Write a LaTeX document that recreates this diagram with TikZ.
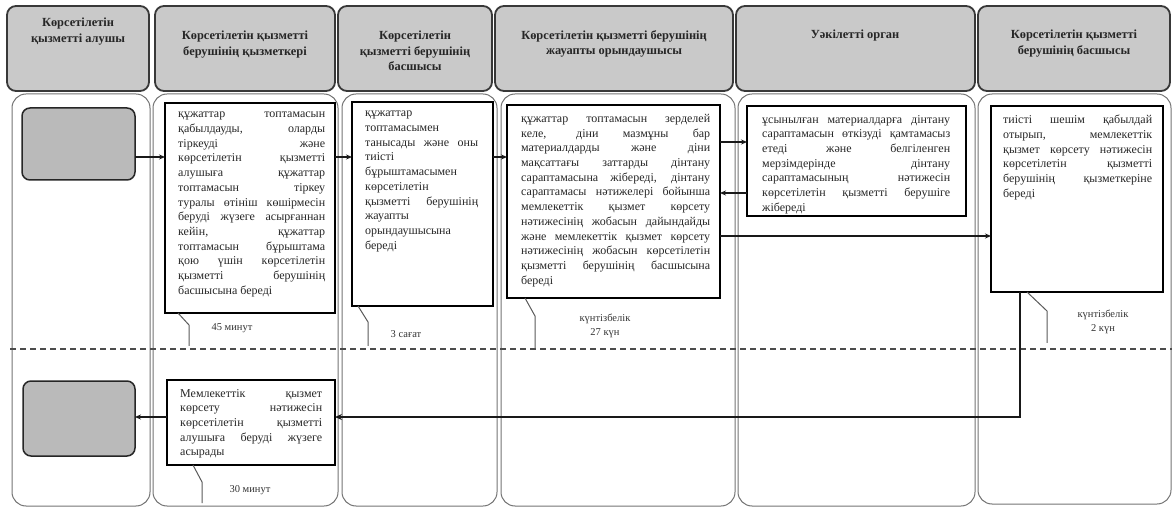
\documentclass[tikz,border=0pt]{standalone}
\usepackage{fontspec}
\setmainfont{Liberation Serif}
\usetikzlibrary{arrows.meta,calc}

\newcommand\bxfont{\fontsize{12}{14.7}\selectfont\hyphenpenalty=10000\exhyphenpenalty=10000}
\newcommand\hdfont{\fontsize{12.4}{15.5}\selectfont\bfseries}
\newcommand\lbfont{\fontsize{10.5}{14}\selectfont}

\begin{document}
\begin{tikzpicture}[x=1pt,y=-1pt,
  header/.style={draw=black!78, line width=1.8pt, fill=black!21, rounded corners=9pt,
                 anchor=north west, inner sep=0pt, outer sep=0pt},
  hdtext/.style={anchor=north, inner sep=0pt, align=center, font=\hdfont, text=black!85},
  lane/.style={draw=black!55, line width=1pt, rounded corners=14pt},
  actor/.style={draw=black!85, line width=1.5pt, fill=black!27, rounded corners=8pt,
                anchor=north west, inner sep=0pt, outer sep=0pt},
  stepbox/.style={draw=black, line width=1.6pt, anchor=north west, inner sep=0pt, outer sep=0pt},
  txt/.style={anchor=north west, inner sep=0pt, align=justify, font=\bxfont, text=black!85},
  lbl/.style={inner sep=0pt, align=center, font=\lbfont, text=black!80},
  arr/.style={draw=black!90, line width=1.3pt, -{Stealth[length=6pt,width=5pt]}},
  backarr/.style={draw=black!90, line width=2.6pt, -{Stealth[length=7pt,width=6pt]}},
  stub/.style={draw=black!65, line width=1pt},
  dashline/.style={draw=black!70, line width=1.2pt, dash pattern=on 6pt off 4pt}
]
\useasboundingbox (0,0) rectangle (1172,510);

% swimlane bodies
\draw[lane] (12,94) rectangle (150,506);
\draw[lane] (153,94) rectangle (338,506);
\draw[lane] (342,94) rectangle (497,506);
\draw[lane] (501,94) rectangle (735,506);
\draw[lane] (738,94) rectangle (975,506);
\draw[lane] (978,94) rectangle (1171,504);

% swimlane headers
\node[header, minimum width=142pt, minimum height=85pt] (h1) at (7,6) {};
\node[header, minimum width=180pt, minimum height=85pt] (h2) at (155,6) {};
\node[header, minimum width=154pt, minimum height=85pt] (h3) at (338,6) {};
\node[header, minimum width=238pt, minimum height=85pt] (h4) at (495,6) {};
\node[header, minimum width=239pt, minimum height=85pt] (h5) at (736,6) {};
\node[header, minimum width=192pt, minimum height=85pt] (h6) at (978,6) {};

\node[hdtext] (h1t) at (78,18) {Көрсетілетін\\қызметті алушы};
\node[hdtext] (h2t) at (245,31) {Көрсетілетін қызметті\\берушінің қызметкері};
\node[hdtext] (h3t) at (415,31) {Көрсетілетін\\қызметті берушінің\\басшысы};
\node[hdtext] (h4t) at (614,30) {Көрсетілетін қызметті берушінің\\жауапты орындаушысы};
\node[hdtext] (h5t) at (855,30) {Уәкілетті орган};
\node[hdtext] (h6t) at (1074,30) {Көрсетілетін қызметті\\берушінің басшысы};

% stage separator
\draw[dashline] (10,349) -- (1172,349);

% service recipient
\node[actor, minimum width=113pt, minimum height=72pt] (g1) at (22,108) {};
\node[actor, minimum width=112pt, minimum height=75pt] (g2) at (23,381) {};

% process steps
\node[stepbox, minimum width=170pt, minimum height=210pt] (b1) at (165,103) {};
\node[stepbox, minimum width=141pt, minimum height=204pt] (b2) at (352,102) {};
\node[stepbox, minimum width=213pt, minimum height=193pt] (b3) at (507,105) {};
\node[stepbox, minimum width=219pt, minimum height=110pt] (b4) at (747,106) {};
\node[stepbox, minimum width=172pt, minimum height=186pt] (b5) at (991,106) {};
\node[stepbox, minimum width=168pt, minimum height=85pt] (b6) at (167,380) {};

\node[txt, text width=147pt] (b1t) at ($(b1.north west)+(13,9)$) {құжаттар топтамасын\linebreak
қабылдауды, оларды\linebreak тіркеуді және\linebreak көрсетілетін қызметті\linebreak
алушыға құжаттар\linebreak топтамасын тіркеу\linebreak туралы өтініш көшірмесін\linebreak
беруді жүзеге асырғаннан\linebreak кейін, құжаттар\linebreak топтамасын бұрыштама\linebreak
қою үшін көрсетілетін\linebreak қызметті берушінің\linebreak басшысына береді};

\node[txt, text width=113pt] (b2t) at ($(b2.north west)+(13,9)$) {құжаттар\linebreak
топтамасымен\linebreak танысады және оны\linebreak тиісті\linebreak бұрыштамасымен\linebreak
көрсетілетін\linebreak қызметті берушінің\linebreak жауапты\linebreak орындаушысына\linebreak береді};

\node[txt, text width=189pt] (b3t) at ($(b3.north west)+(14,9)$) {құжаттар топтамасын зерделей\linebreak
келе, діни мазмұны бар\linebreak материалдарды және діни\linebreak мақсаттағы заттарды дінтану\linebreak
сараптамасына жібереді, дінтану\linebreak сараптамасы нәтижелері бойынша\linebreak
мемлекеттік қызмет көрсету\linebreak нәтижесінің жобасын дайындайды\linebreak
және мемлекеттік қызмет көрсету\linebreak нәтижесінің жобасын көрсетілетін\linebreak
қызметті берушінің басшысына\linebreak береді};

\node[txt, text width=188pt] (b4t) at ($(b4.north west)+(15,9)$) {ұсынылған материалдарға дінтану\linebreak
сараптамасын өткізуді қамтамасыз\linebreak етеді және белгіленген\linebreak
мерзімдерінде дінтану\linebreak сараптамасының нәтижесін\linebreak
көрсетілетін қызметті берушіге\linebreak жібереді};

\node[txt, text width=149pt] (b5t) at ($(b5.north west)+(12,9)$) {тиісті шешім қабылдай\linebreak
отырып, мемлекеттік\linebreak қызмет көрсету нәтижесін\linebreak көрсетілетін қызметті\linebreak
берушінің қызметкеріне\linebreak береді};

\node[txt, text width=142pt] (b6t) at ($(b6.north west)+(13,9)$) {Мемлекеттік қызмет\linebreak
көрсету нәтижесін\linebreak көрсетілетін қызметті\linebreak алушыға беруді жүзеге\linebreak асырады};

% duration call-outs
\draw[stub] ($(b1.south west)+(13,0)$) -- ++(11,12) -- ++(0,21);
\draw[stub] ($(b2.south west)+(6,0)$) -- ++(10,16) -- ++(0,24);
\draw[stub] ($(b3.south west)+(18,0)$) -- ++(10,18) -- ++(0,33);
\draw[stub] ($(b5.south west)+(36,0)$) -- ++(20,19) -- ++(0,32);
\draw[stub] ($(b6.south west)+(26,0)$) -- ++(9,17) -- ++(0,21);

\node[lbl] (d1) at (232,328) {45 минут};
\node[lbl] (d2) at (406,334) {3 сағат};
\node[lbl] (d3) at (605,326) {күнтізбелік\\27 күн};
\node[lbl] (d5) at (1103,322) {күнтізбелік\\2 күн};
\node[lbl] (d6) at (250,490) {30 минут};

% flow rows
\coordinate (r1) at (0,157);
\coordinate (r2) at (0,142);
\coordinate (r3) at (0,193);
\coordinate (r4) at (0,236);
\coordinate (t7) at (1020,417);

\draw[arr] (g1.east |- r1) -- (b1.west |- r1);
\draw[arr] (b1.east |- r1) -- (b2.west |- r1);
\draw[arr] (b2.east |- r1) -- (b3.west |- r1);
\draw[arr] (b3.east |- r2) -- (b4.west |- r2);
\draw[arr] (b4.west |- r3) -- (b3.east |- r3);
\draw[arr] (b3.east |- r4) -- (b5.west |- r4);
\draw[backarr] (b5.south -| t7) -- (t7) -- (b6.east |- t7);
\draw[arr] (b6.west |- t7) -- (g2.east |- t7);

\end{tikzpicture}
\end{document}
